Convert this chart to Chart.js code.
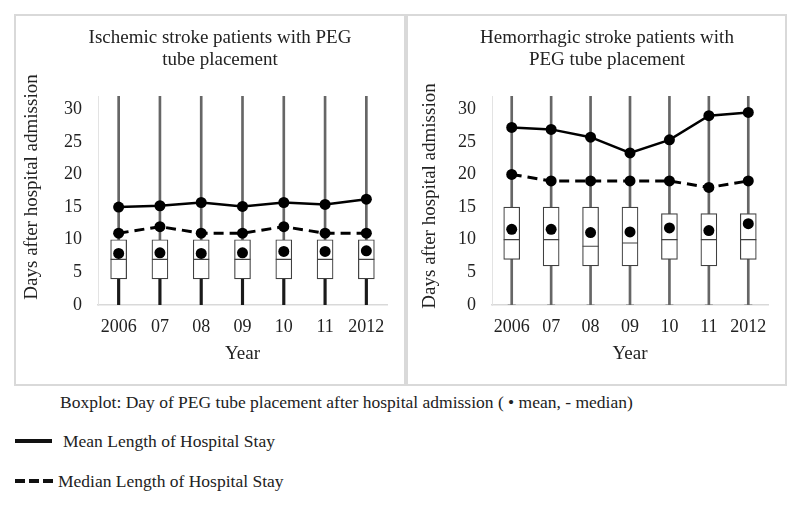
<!DOCTYPE html>
<html>
<head>
<meta charset="utf-8">
<script src="https://cdn.jsdelivr.net/npm/chart.js@4.4.0/dist/chart.umd.min.js"></script>
<style>
body { margin: 0; background: #fff; font-family: "Liberation Serif", "Times New Roman", serif; color: #222; }
.panel { position: absolute; border: 2px solid #d9d9d9; box-sizing: border-box; }
canvas { position: absolute; }
.note { position: absolute; font-size: 17.5px; line-height: 20px; white-space: nowrap; }
.swatch { position: absolute; height: 4px; width: 37px; background: #111; }
.swatch.dash { width: 38px; background: repeating-linear-gradient(90deg, #111 0 10px, transparent 10px 14px); }
</style>
</head>
<body>
<div class="panel" style="left:14px;top:14px;width:392px;height:372px"></div>
<div class="panel" style="left:406px;top:14px;width:381px;height:372px"></div>
<canvas id="chartIschemic" width="396" height="368" style="left:22px;top:16px"></canvas>
<canvas id="chartHemorrhagic" width="374" height="368" style="left:420px;top:16px"></canvas>

<div class="note" style="left:60px;top:392px">Boxplot: Day of PEG tube placement after hospital admission ( • mean, - median)</div>
<div class="swatch" style="left:15px;top:439px"></div>
<div class="note" style="left:63px;top:431px">Mean Length of Hospital Stay</div>
<div class="swatch dash" style="left:15px;top:479px"></div>
<div class="note" style="left:58px;top:471px">Median Length of Hospital Stay</div>

<script>
const years = ['2006', '07', '08', '09', '10', '11', '2012'];
const yTicks = [0, 5, 10, 15, 20, 25, 30];

// ischemic stroke
const isWhiskerLow = [0, 0, 0, 0, 0, 0, 0];
const isWhiskerHigh = [32, 32, 32, 32, 32, 32, 32];
const isQ1 = [4, 4, 4, 4, 4, 4, 4];
const isQ3 = [10, 10, 10, 10, 10, 10, 10];
const isMedian = [7, 7, 7, 7, 7, 7, 7];
const isMean = [7.9, 8.0, 7.9, 8.0, 8.2, 8.2, 8.3];
const isLosMean = [15.0, 15.2, 15.7, 15.1, 15.7, 15.4, 16.2];
const isLosMedian = [11, 12, 11, 11, 12, 11, 11];

// hemorrhagic stroke
const hsWhiskerLow = [0, 0, 0, 0, 0, 0, 0];
const hsWhiskerHigh = [32, 32, 32, 32, 32, 32, 32];
const hsQ1 = [7, 6, 6, 6, 7, 6, 7];
const hsQ3 = [15, 15, 15, 15, 14, 14, 14];
const hsMedian = [10, 10, 9, 9.5, 10, 10, 10];
const hsMean = [11.6, 11.6, 11.1, 11.2, 11.8, 11.4, 12.45];
const hsLosMean = [27.2, 26.9, 25.7, 23.3, 25.3, 29.0, 29.5];
const hsLosMedian = [20, 19, 19, 19, 19, 18, 19];

const serif = '"Liberation Serif", "Times New Roman", serif';

// rotated y axis title, placed by hand so it can sit off-centre like the original
const yTitlePlugin = {
    id: 'yTitle',
    afterDraw(chart, args, opts) {
        const ctx = chart.ctx;
        ctx.save();
        ctx.translate(opts.x, opts.y);
        ctx.rotate(-Math.PI / 2);
        ctx.font = '19px ' + serif;
        ctx.fillStyle = '#222';
        ctx.textAlign = 'center';
        ctx.textBaseline = 'middle';
        ctx.fillText(opts.text, 0, 0);
        ctx.restore();
    }
};

function makeChart(id, title, s) {
    const datasets = [
        {
            type: 'bar',
            data: years.map((_, i) => [s.low[i], s.q1[i]]),
            backgroundColor: s.lowColor,
            barThickness: s.lowWidth,
            clip: 0,
            order: 9
        },
        {
            type: 'bar',
            data: years.map((_, i) => [s.q3[i], s.high[i]]),
            backgroundColor: '#666',
            barThickness: 2,
            clip: 0,
            order: 8
        },
        {
            type: 'bar',
            data: years.map((_, i) => [s.q1[i], s.q3[i]]),
            backgroundColor: '#fff',
            borderColor: '#404040',
            borderWidth: 1.2,
            borderSkipped: false,
            barThickness: 16,
            order: 7
        },
        {
            type: 'line',
            data: s.median,
            showLine: false,
            pointStyle: 'line',
            pointRadius: 8,
            pointBorderWidth: 1.2,
            pointBorderColor: '#404040',
            order: 6
        },
        {
            type: 'line',
            data: s.mean,
            showLine: false,
            pointRadius: 5.5,
            pointBackgroundColor: '#000',
            pointBorderWidth: 0,
            order: 5
        },
        {
            type: 'line',
            data: s.losMedian,
            borderColor: '#000',
            borderWidth: 3,
            borderDash: [10, 6],
            pointRadius: 5.5,
            pointBackgroundColor: '#000',
            pointBorderWidth: 0,
            order: 2
        },
        {
            type: 'line',
            data: s.losMean,
            borderColor: '#000',
            borderWidth: 2.5,
            pointRadius: 5.5,
            pointBackgroundColor: '#000',
            pointBorderWidth: 0,
            order: 1
        }
    ];
    if (s.caps) {
        datasets.push({
            type: 'line',
            data: s.low,
            showLine: false,
            pointStyle: 'line',
            pointRadius: 4,
            pointBorderWidth: 2,
            pointBorderColor: '#aaa',
            order: 10
        });
    }

    return new Chart(document.getElementById(id), {
        type: 'bar',
        data: { labels: years, datasets: datasets },
        options: {
            responsive: false,
            animation: false,
            layout: { padding: { left: s.padLeft, right: s.padRight, top: 0, bottom: 0 } },
            datasets: { bar: { grouped: false } },
            scales: {
                x: {
                    grid: { display: false, drawTicks: false },
                    border: { display: true, color: '#d9d9d9', width: 1.5 },
                    ticks: {
                        color: '#222', font: { family: serif, size: 18 }, padding: 11,
                        maxRotation: 0, minRotation: 0, autoSkip: false
                    },
                    title: {
                        display: true, text: 'Year', color: '#222',
                        font: { family: serif, size: 19 }, padding: { top: 0, bottom: 19 }
                    },
                    afterFit: (scale) => { scale.height = 79; }
                },
                y: {
                    min: 0,
                    max: 32,
                    grid: { display: false, drawTicks: false },
                    border: { display: true, color: '#e3e3e3', width: 1 },
                    ticks: {
                        stepSize: 5, includeBounds: false, color: '#222', padding: 16,
                        font: { family: serif, size: 18 }
                    },
                    afterBuildTicks: (scale) => { scale.ticks = yTicks.map(v => ({ value: v })); },
                    afterFit: (scale) => { scale.width = s.yWidth; }
                }
            },
            plugins: {
                legend: { display: false },
                tooltip: { enabled: false },
                title: {
                    display: true,
                    text: title,
                    color: '#222',
                    font: { family: serif, size: 19, weight: 'normal', lineHeight: 1.16 },
                    padding: { top: 11, bottom: 25 }
                },
                yTitle: { text: 'Days after hospital admission', x: 10, y: s.yTitleY }
            }
        },
        plugins: [yTitlePlugin]
    });
}

makeChart('chartIschemic', ['Ischemic stroke patients with PEG', 'tube placement'], {
    low: isWhiskerLow, high: isWhiskerHigh, q1: isQ1, q3: isQ3,
    median: isMedian, mean: isMean, losMean: isLosMean, losMedian: isLosMedian,
    lowColor: '#1a1a1a', lowWidth: 2.5, caps: false,
    padLeft: 31, yWidth: 45, padRight: 31, yTitleY: 171
});

makeChart('chartHemorrhagic', ['Hemorrhagic stroke patients with', 'PEG tube placement'], {
    low: hsWhiskerLow, high: hsWhiskerHigh, q1: hsQ1, q3: hsQ3,
    median: hsMedian, mean: hsMean, losMean: hsLosMean, losMedian: hsLosMedian,
    lowColor: '#666', lowWidth: 2, caps: true,
    padLeft: 26, yWidth: 46, padRight: 26, yTitleY: 180
});
</script>
</body>
</html>
